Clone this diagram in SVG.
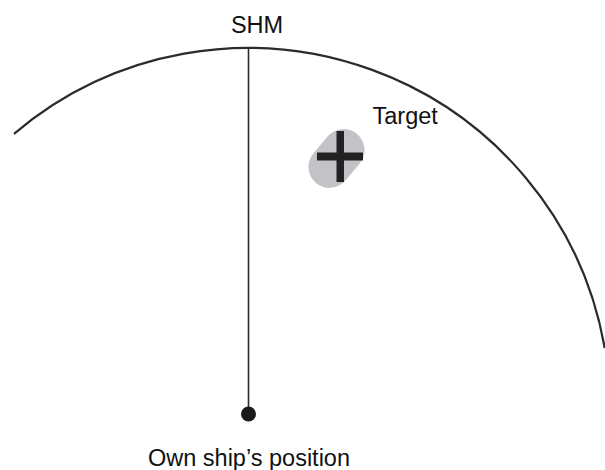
<svg xmlns="http://www.w3.org/2000/svg" width="605" height="470" viewBox="0 0 605 470">
<style>
.lbl{font-family:"Liberation Sans",Arial,sans-serif;font-size:23.5px;fill:#111}
.ln{fill:none;stroke:#2b2b2b;stroke-linecap:butt}
</style>
<rect width="605" height="470" fill="#fff"/>
<g id="range-arc">
<path class="ln" stroke-width="2.2" d="M14,133.8 A362,362 0 0 1 604.7,348"/>
</g>
<g id="connectors">
<line class="ln" stroke-width="1.6" x1="248.5" y1="48" x2="248.5" y2="414"/>
</g>
<g id="shm">
<text class="lbl" x="257" y="33" text-anchor="middle">SHM</text>
</g>
<g id="target">
<rect x="304.5" y="137.5" width="64" height="42" rx="21" fill="#c3c3c7" transform="rotate(-50 336.5 158.5)"/>
<rect x="336.5" y="131" width="7.5" height="51" fill="#222"/>
<rect x="317" y="152.5" width="46" height="8" fill="#222"/>
<text class="lbl" x="372.5" y="123.5">Target</text>
</g>
<g id="own-ship">
<circle cx="248.5" cy="414" r="7.5" fill="#1a1a1a"/>
<text class="lbl" x="249" y="466" text-anchor="middle">Own ship’s position</text>
</g>
</svg>
